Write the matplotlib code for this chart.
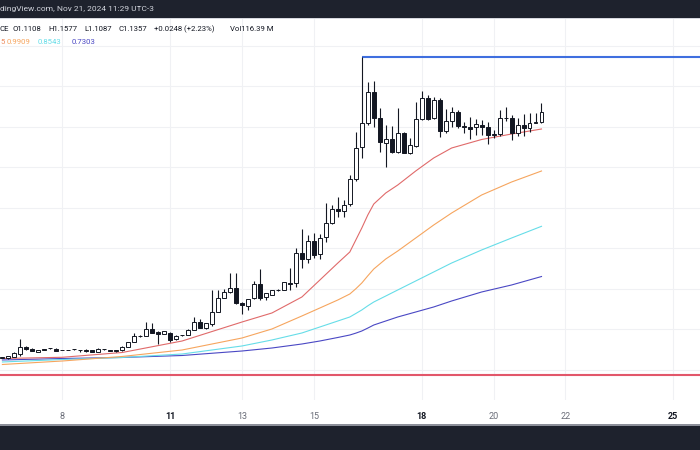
import matplotlib
matplotlib.use("Agg")
import matplotlib.pyplot as plt
from matplotlib.patches import Rectangle

# ---------------- data (4h candles, Nov 6 08:00 -> Nov 21 08:00, UTC-3) ----------------
opens = [0.5296, 0.5284, 0.5324, 0.5383, 0.5563, 0.5521, 0.5447, 0.5514, 0.5528, 0.5521,
         0.5487, 0.5489, 0.5504, 0.5491, 0.5496, 0.5489, 0.5447, 0.5504, 0.5489, 0.5489,
         0.5482, 0.5571, 0.5694, 0.5833, 0.5842, 0.6008, 0.5941, 0.5884, 0.5916, 0.5753,
         0.5857, 0.5859, 0.5983, 0.6173, 0.6025, 0.6124, 0.6435, 0.6781, 0.6914, 0.7027,
         0.6657, 0.6583, 0.6766, 0.7111, 0.6805, 0.6847, 0.6968, 0.6970, 0.7151, 0.7136,
         0.7877, 0.7729, 0.8181, 0.7860, 0.8272, 0.8633, 0.8963, 0.8921, 0.9087, 0.9704,
         1.0494, 1.1101, 1.1867, 1.1210, 1.0608, 1.0692, 1.0385, 1.0840, 1.0346, 1.0526,
         1.1185, 1.1704, 1.1210, 1.1662, 1.0904, 1.1151, 1.1373, 1.1010, 1.1003, 1.0988,
         1.1045, 1.1003, 1.0800, 1.0830, 1.1210, 1.1210, 1.0840, 1.1045, 1.0963, 1.1100,
         1.1108]
highs = [0.5312, 0.5350, 0.5430, 0.5753, 0.5588, 0.5530, 0.5500, 0.5522, 0.5540, 0.5530,
         0.5498, 0.5500, 0.5518, 0.5500, 0.5505, 0.5495, 0.5530, 0.5515, 0.5495, 0.5496,
         0.5580, 0.5690, 0.5901, 0.5850, 0.6188, 0.6163, 0.5950, 0.5970, 0.5941, 0.5850,
         0.5870, 0.5995, 0.6312, 0.6255, 0.6160, 0.6970, 0.6970, 0.6988, 0.7383, 0.7383,
         0.6665, 0.6750, 0.7193, 0.7482, 0.6900, 0.6980, 0.6985, 0.7170, 0.7507, 0.7998,
         0.8469, 0.8329, 0.8370, 0.8353, 0.9126, 0.9069, 0.9274, 0.9193, 0.9810, 1.0879,
         1.2731, 1.2114, 1.2138, 1.1457, 1.1045, 1.1020, 1.1457, 1.0879, 1.0716, 1.1620,
         1.1884, 1.1785, 1.1743, 1.1711, 1.1432, 1.1496, 1.1415, 1.1126, 1.1250, 1.1185,
         1.1168, 1.1126, 1.0920, 1.1415, 1.1496, 1.1292, 1.1210, 1.1309, 1.1334, 1.1348,
         1.1577]
lows = [0.5285, 0.5275, 0.5318, 0.5348, 0.5489, 0.5455, 0.5440, 0.5482, 0.5520, 0.5465,
        0.5478, 0.5480, 0.5495, 0.5432, 0.5450, 0.5432, 0.5440, 0.5495, 0.5455, 0.5445,
        0.5475, 0.5563, 0.5685, 0.5822, 0.5835, 0.5905, 0.5630, 0.5875, 0.5694, 0.5745,
        0.5845, 0.5850, 0.5975, 0.6030, 0.6015, 0.6082, 0.6425, 0.6770, 0.6905, 0.6630,
        0.6378, 0.6477, 0.6755, 0.6724, 0.6724, 0.6835, 0.6955, 0.6960, 0.6970, 0.7052,
        0.7507, 0.7645, 0.7753, 0.7729, 0.8163, 0.8600, 0.8781, 0.8781, 0.9045, 0.9662,
        1.0222, 1.1045, 1.0988, 1.0385, 1.0015, 1.0353, 1.0353, 1.0346, 1.0329, 1.0501,
        1.1168, 1.1168, 1.1193, 1.0756, 1.0840, 1.1003, 1.0963, 1.0840, 1.0692, 1.0798,
        1.0798, 1.0568, 1.0716, 1.0773, 1.1150, 1.0674, 1.0773, 1.0773, 1.0879, 1.1094,
        1.1087]
closes = [0.5299, 0.5341, 0.5422, 0.5571, 0.5514, 0.5464, 0.5489, 0.5489, 0.5531, 0.5472,
          0.5489, 0.5491, 0.5506, 0.5489, 0.5457, 0.5440, 0.5521, 0.5506, 0.5464, 0.5452,
          0.5571, 0.5679, 0.5835, 0.5835, 0.6008, 0.5916, 0.5891, 0.5958, 0.5736, 0.5842,
          0.5859, 0.5983, 0.6173, 0.6040, 0.6149, 0.6435, 0.6781, 0.6914, 0.7027, 0.6642,
          0.6600, 0.6741, 0.7111, 0.6781, 0.6889, 0.6970, 0.6970, 0.7161, 0.7119, 0.7877,
          0.7736, 0.8181, 0.7835, 0.8247, 0.8633, 0.8963, 0.8921, 0.9069, 0.9704, 1.0484,
          1.1087, 1.1867, 1.1210, 1.0632, 1.0692, 1.0385, 1.0840, 1.0361, 1.0551, 1.1185,
          1.1704, 1.1185, 1.1662, 1.0904, 1.1143, 1.1373, 1.1020, 1.1003, 1.0953, 1.1069,
          1.1003, 1.0798, 1.0830, 1.1210, 1.1212, 1.0840, 1.1045, 1.0963, 1.1101, 1.1108,
          1.1357]

# moving-average lines, sampled at these candle indices
ma_idx = [0, 10, 20, 30, 40, 45, 50, 53, 56, 58, 59, 60, 61, 62, 64, 66, 69, 72, 75, 80, 85, 90]
ma_red = [0.5279, 0.5309, 0.5427, 0.5711, 0.6180, 0.6403, 0.6798, 0.7217, 0.7637, 0.7909,
          0.8205, 0.8501, 0.8822, 0.9094, 0.9366, 0.9563, 0.9909, 1.0230, 1.0477, 1.0687,
          1.0822, 1.0946]
ma_orange = [0.5131, 0.5217, 0.5329, 0.5489, 0.5785, 0.6008, 0.6329, 0.6526, 0.6724, 0.6872,
             0.7000, 0.7143, 0.7320, 0.7489, 0.7736, 0.7933, 0.8254, 0.8575, 0.8872, 0.9316,
             0.9637, 0.9909]
ma_cyan = [0.5193, 0.5254, 0.5304, 0.5390, 0.5588, 0.5736, 0.5909, 0.6057, 0.6205, 0.6304,
           0.6390, 0.6477, 0.6580, 0.6674, 0.6822, 0.6971, 0.7193, 0.7415, 0.7637, 0.7958,
           0.8254, 0.8543]
ma_blue = [0.5242, 0.5279, 0.5304, 0.5353, 0.5464, 0.5538, 0.5637, 0.5711, 0.5798, 0.5859,
           0.5905, 0.5958, 0.6030, 0.6106, 0.6205, 0.6304, 0.6427, 0.6551, 0.6699, 0.6921,
           0.7094, 0.7303]

high_level = 1.2731      # horizontal ray from the spike high
low_level = 0.4872       # red horizontal line
ray_start_idx = 60

day_ticks = [8, 11, 13, 15, 18, 20, 22, 25]
day_labels = ["8", "11", "13", "15", "18", "20", "22", "25"]
bold_labels = ["11", "18", "25"]
grid_levels = [0.5, 0.6, 0.7, 0.8, 0.9, 1.0, 1.1, 1.2, 1.3]

first_candle = 6 + 8 / 24   # Nov 6, 08:00
step = 4 / 24               # 4 hours
times = [first_candle + i * step for i in range(len(closes))]

# ---------------- figure ----------------
W, H = 700, 450
fig = plt.figure(figsize=(7, 4.5), dpi=100)
fig.patch.set_facecolor("white")

def fy(py):
    return 1 - py / H

PANE_TOP, PANE_BOT = 18, 400
ax = fig.add_axes([0, fy(PANE_BOT), 1, (PANE_BOT - PANE_TOP) / H])
ax.set_facecolor("white")
ax.set_xlim(6.2665, 25.7435)
ax.set_ylim(0.4254, 1.3687)
for s in ax.spines.values():
    s.set_visible(False)

ax.set_yticks(grid_levels)
ax.set_yticklabels([])
ax.tick_params(axis="y", length=0)
ax.set_xticks(day_ticks)
ax.set_xticklabels(day_labels, fontsize=6.5, family="Roboto")
ax.tick_params(axis="x", length=0, pad=8.5)
for lab in ax.get_xticklabels():
    if lab.get_text() in bold_labels:
        lab.set_fontweight("bold")
        lab.set_color("#131722")
    else:
        lab.set_color("#6a6d78")
ax.grid(True, color="#f0f1f4", lw=0.8, zorder=0)
ax.set_axisbelow(True)

# moving averages
ma_t = [times[i] for i in ma_idx]
ax.plot(ma_t, ma_blue, color="#4a48c4", lw=0.8, zorder=2)
ax.plot(ma_t, ma_cyan, color="#66dde8", lw=0.8, zorder=2)
ax.plot(ma_t, ma_orange, color="#f6a55e", lw=0.8, zorder=2)
ax.plot(ma_t, ma_red, color="#e06a6a", lw=0.8, zorder=2)

# horizontal levels
ax.axhline(low_level, color="#e2576a", lw=1.5, zorder=2)
ax.hlines(high_level, times[ray_start_idx], 25.7435, color="#3f6fdf", lw=1.5, zorder=2)

# candles
ink = "#131722"
ax.vlines(times, lows, highs, color=ink, lw=0.8, zorder=3)
bottoms = [min(o, c) for o, c in zip(opens, closes)]
heights = [max(abs(c - o), 0.0012) for o, c in zip(opens, closes)]
fills = ["white" if c >= o else ink for o, c in zip(opens, closes)]
ax.bar(times, heights, bottom=bottoms, width=0.11, color=fills, edgecolor=ink,
       linewidth=0.7, zorder=4)

# ---------------- bands & texts ----------------
fig.patches.append(Rectangle((0, fy(17.5)), 1, 17.5 / H, transform=fig.transFigure,
                             facecolor="#1e222d", edgecolor="none", zorder=10))
fig.patches.append(Rectangle((0, fy(18.6)), 1, 1.1 / H, transform=fig.transFigure,
                             facecolor="#d6d8de", edgecolor="none", zorder=10))
fig.patches.append(Rectangle((0, 0), 1, 25 / H, transform=fig.transFigure,
                             facecolor="#1e222d", edgecolor="none", zorder=10))
fig.patches.append(Rectangle((0, fy(425.5)), 1, 1.2 / H, transform=fig.transFigure,
                             facecolor="#8c8f99", edgecolor="none", zorder=10))

fig.text(0.0, fy(9.5), "dingView.com, Nov 21, 2024 11:29 UTC-3", color="#d1d4dc",
         fontsize=6.0, family="Roboto", ha="left", va="center", zorder=11)

legend1 = [("CE", 0), ("O1.1108", 12.7), ("H1.1577", 48), ("L1.1087", 84),
           ("C1.1357", 118.5), ("+0.0248 (+2.23%)", 154), ("Vol116.39 M", 230)]
for txt, px in legend1:
    fig.text(px / W, fy(29.3), txt, color=ink, fontsize=5.6, family="Roboto",
             ha="left", va="center", zorder=11)

legend2 = [("5", 0.3, "#ec8a5e"), ("0.9909", 6.5, "#f6a55e"), ("0.8543", 38, "#66dde8"),
           ("0.7303", 72, "#4a48c4")]
for txt, px, col in legend2:
    fig.text(px / W, fy(41.7), txt, color=col, fontsize=5.6, family="Roboto",
             ha="left", va="center", zorder=11)

fig.savefig("out.png", dpi=100, facecolor="white")
